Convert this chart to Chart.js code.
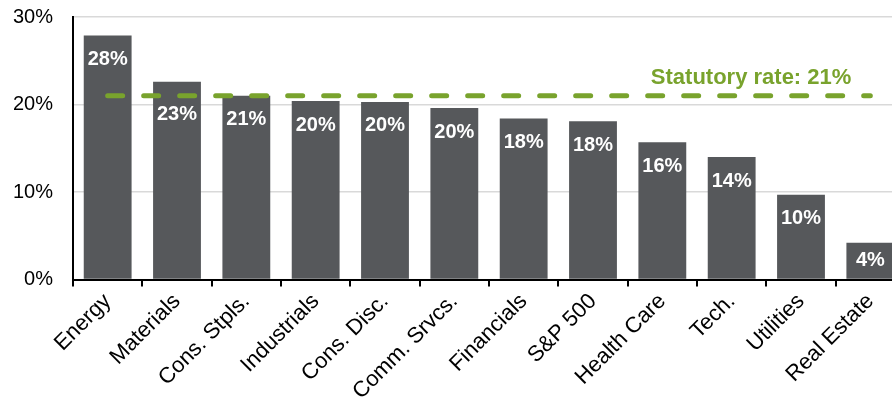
<!DOCTYPE html>
<html lang="en">
<head>
    <meta charset="UTF-8">
    <title>Effective tax rate by sector</title>
    <script src="https://cdn.jsdelivr.net/npm/chart.js"></script>
    <style>
        html, body { margin: 0; padding: 0; background: #fff; overflow: hidden; }
        /* chart is a bit wider than the window, the last column is cut like in the original */
        .wrap { width: 905px; height: 409px; }
    </style>
</head>
<body>
    <div class="wrap"><canvas id="chart" width="905" height="409"></canvas></div>

    <script>
        // data
        const sectors = ['Energy', 'Materials', 'Cons. Stpls.', 'Industrials', 'Cons. Disc.', 'Comm. Srvcs.',
            'Financials', 'S&P 500', 'Health Care', 'Tech.', 'Utilities', 'Real Estate'];
        const taxRates = [27.9, 22.6, 21.0, 20.4, 20.3, 19.6, 18.4, 18.1, 15.7, 14.0, 9.7, 4.2];
        const statutoryRate = 21;
        const statutoryLabel = 'Statutory rate: 21%';
        const yTicks = [0, 10, 20, 30];

        const FONT = "Arial, 'Liberation Sans', sans-serif";
        const BAR = '#56585b';
        const GREEN = '#79a32d';

        // white % labels inside the bars + the green text above the dashed line
        const labelsPlugin = {
            id: 'labels',
            afterDatasetsDraw(chart) {
                const ctx = chart.ctx;
                const meta = chart.getDatasetMeta(1);
                const xs = chart.scales.x, ys = chart.scales.y;
                const lineY = ys.getPixelForValue(statutoryRate);
                ctx.save();
                ctx.fillStyle = '#fff';
                ctx.font = 'bold 20px ' + FONT;
                ctx.textAlign = 'center';
                ctx.textBaseline = 'middle';
                meta.data.forEach((bar, i) => {
                    let y = Math.min(bar.y + 24, (bar.y + bar.base) / 2);
                    // keep the label clear of the dashed line
                    if (y - 10 < lineY + 9 && y + 10 > lineY - 9) y = lineY + 19;
                    ctx.fillText(Math.round(taxRates[i]) + '%', bar.x, y);
                });
                ctx.fillStyle = GREEN;
                ctx.font = 'bold 22px ' + FONT;
                ctx.textAlign = 'right';
                ctx.fillText(statutoryLabel, xs.getPixelForValue(sectors.length - 1) - 19, lineY - 18);
                ctx.restore();
            }
        };

        new Chart(document.getElementById('chart').getContext('2d'), {
            type: 'bar',
            data: {
                labels: sectors,
                datasets: [{
                    type: 'line',
                    data: sectors.map(() => statutoryRate),
                    borderColor: GREEN,
                    borderWidth: 5,
                    borderDash: [15, 21],
                    borderCapStyle: 'round',
                    pointRadius: 0,
                    fill: false,
                    order: 0
                }, {
                    data: taxRates,
                    backgroundColor: BAR,
                    categoryPercentage: 1,
                    barPercentage: 0.69,
                    order: 1
                }]
            },
            options: {
                responsive: false,
                animation: false,
                layout: { padding: { top: 17, left: 0, right: 0, bottom: 0 } },
                plugins: { legend: { display: false }, tooltip: { enabled: false } },
                scales: {
                    x: {
                        afterFit(scale) {
                            scale.height = 129.5;
                            scale.paddingLeft = 0;
                            scale.paddingRight = 0;
                        },
                        grid: { display: true, drawOnChartArea: false, drawTicks: true, tickLength: 7, color: '#000', lineWidth: 2 },
                        border: { display: true, color: '#000', width: 2 },
                        ticks: {
                            color: '#000',
                            font: { family: FONT, size: 22 },
                            minRotation: 45,
                            maxRotation: 45,
                            padding: 2,
                            autoSkip: false
                        }
                    },
                    y: {
                        min: 0,
                        max: 30,
                        afterFit(scale) {
                            scale.width = 73;
                            scale.paddingTop = 0;
                            scale.paddingBottom = 0;
                        },
                        afterBuildTicks(scale) { scale.ticks = yTicks.map(v => ({ value: v })); },
                        grid: { color: '#d9d9d9', lineWidth: 1.5, drawTicks: false },
                        border: { display: true, color: '#000', width: 2 },
                        ticks: {
                            color: '#000',
                            font: { family: FONT, size: 20 },
                            padding: 20,
                            callback: v => v + '%'
                        }
                    }
                }
            },
            plugins: [labelsPlugin]
        });
    </script>
</body>
</html>
